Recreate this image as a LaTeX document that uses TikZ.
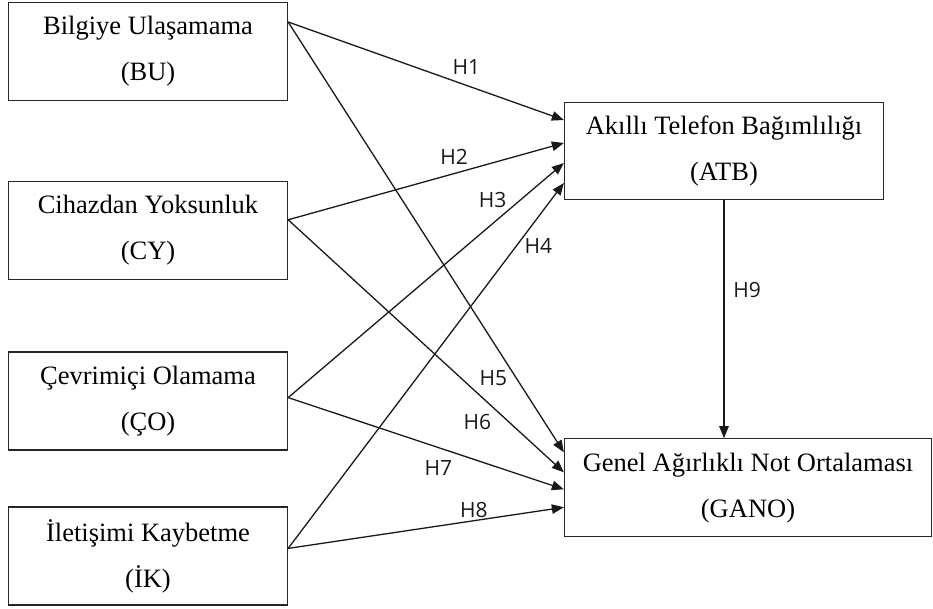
\documentclass[tikz,border=0pt]{standalone}
\usepackage{fontspec}
\setmainfont{Liberation Serif}
\newfontfamily\hypfont{Open Sans}
\usepackage{tikz}
\usetikzlibrary{positioning, arrows.meta}
\tikzset{
    var/.style={rectangle, draw=black!85, line width=1.3pt, minimum width=279pt, minimum height=98pt, align=center, font=\fontsize{26.5}{46}\selectfont},
    dvar/.style={var, minimum width=319pt, minimum height=97pt},
    hyp/.style={font=\hypfont\fontsize{21}{24}\selectfont, text=black!90, inner sep=0pt},
    path/.style={draw=black!90, line width=1.3pt},
    >={Triangle[length=12pt, width=9.5pt]},
}

\begin{document}
\begin{tikzpicture}
        \useasboundingbox (0,0) rectangle (933pt,-609pt);
        \node [var] (BU) at (148pt,-51.5pt) {Bilgiye Ulaşamama\\(BU)};
        \node [var] (CY) [below=79.5pt of BU] {Cihazdan Yoksunluk\\(CY)};
        \node [var] (CO) [below=71.5pt of CY] {Çevrimiçi Olamama\\(ÇO)};
        \node [var] (IK) [below=55.5pt of CO] {İletişimi Kaybetme\\(İK)};
        \node [dvar] (ATB) at (724pt,-151pt) {Akıllı Telefon Bağımlılığı\\(ATB)};
        \node [dvar, minimum width=367pt, minimum height=98pt] (GANO) [below right=238pt and 0pt of ATB.south west] {Genel Ağırlıklı Not Ortalaması\\(GANO)};
        \draw[path, ->] ([yshift=29.5pt]BU.east) -- node[hyp, pos=0.646, yshift=18pt] {H1} ([yshift=31pt]ATB.west);
        \draw[path, ->] ([yshift=10.5pt]CY.east) -- node[hyp, pos=0.602, yshift=17pt] {H2} ([yshift=8pt]ATB.west);
        \draw[path, ->] ([yshift=3.5pt]CO.east) -- node[hyp, pos=0.742, yshift=24pt] {H3} ([yshift=-12pt]ATB.west);
        \draw[path, ->] ([yshift=7.5pt]IK.east) -- node[hyp, pos=0.828, xshift=22pt] {H4} ([yshift=-32pt]ATB.west);
        \draw[path, ->] ([yshift=29.5pt]BU.east) -- node[hyp, pos=0.828, xshift=-23pt] {H5} ([yshift=35.5pt]GANO.west);
        \draw[path, ->] ([yshift=10.5pt]CY.east) -- node[hyp, pos=0.686, yshift=-29pt] {H6} ([yshift=15.5pt]GANO.west);
        \draw[path, ->] ([yshift=3.5pt]CO.east) -- node[hyp, pos=0.545, yshift=-20pt] {H7} ([yshift=-1.5pt]GANO.west);
        \draw[path, ->] ([yshift=7.5pt]IK.east) -- node[hyp, pos=0.674, yshift=11pt] {H8} ([yshift=-19.5pt]GANO.west);
        \draw[path, ->] (ATB.south) -- node[hyp, pos=0.377, xshift=23pt] {H9} (ATB.south |- GANO.north);
    \end{tikzpicture}
\end{document}
